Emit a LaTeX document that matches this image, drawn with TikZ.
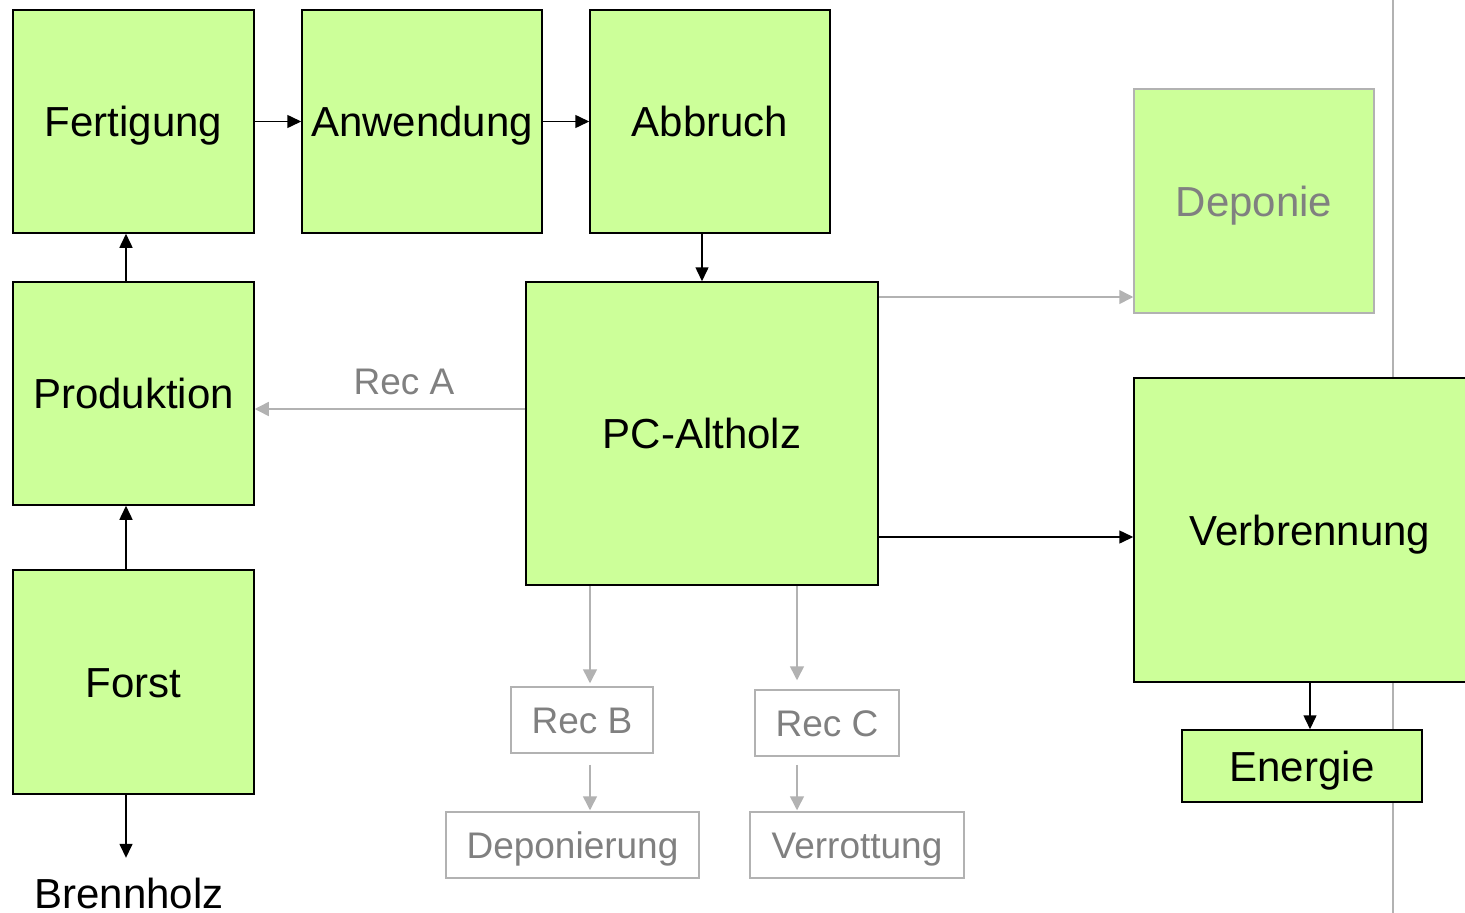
\documentclass[tikz,border=0pt]{standalone}
\usepackage{fontspec}
\setmainfont{Liberation Sans}
\usetikzlibrary{arrows.meta,calc}
\definecolor{boxgreen}{RGB}{204,255,153}
\definecolor{lgray}{RGB}{178,178,178}
\definecolor{tgray}{RGB}{128,128,128}
\begin{document}
\begin{tikzpicture}[x=1pt,y=-1pt,
  big/.style={font=\fontsize{42}{50}\selectfont, text height=30pt, text depth=0pt, inner sep=0pt},
  small/.style={font=\fontsize{37}{44}\selectfont, text height=26.5pt, text depth=0pt, inner sep=0pt},
  gbox/.style={big, draw=black, line width=1.5pt, fill=boxgreen},
  dbox/.style={big, draw=lgray, line width=1.5pt, fill=boxgreen, text=tgray},
  rbox/.style={small, draw=lgray, line width=1.5pt, fill=white, text=tgray},
  barr/.style={draw=black, line width=1.5pt, -{Triangle[length=14pt,width=13pt]}},
  garr/.style={draw=lgray, line width=1.5pt, -{Triangle[length=14pt,width=14pt]}}]
\fill[white] (0,0) rectangle (1465,913);
\useasboundingbox (0,0) rectangle (1465,913);
\clip (0,0) rectangle (1465,913);
\draw[lgray, line width=1.5pt] (1393,0) -- (1393,913);
% main boxes
\node[gbox, minimum width=241pt, minimum height=223pt] (fert) at (133.5,121.5) {Fertigung};
\node[gbox, minimum width=240pt, minimum height=223pt] (anw) at (422,121.5) {Anwendung};
\node[gbox, minimum width=240pt, minimum height=223pt] (abb) at (710,121.5) {Abbruch};
\node[gbox, minimum width=241pt, minimum height=223pt] (prod) at (133.5,393.5) {Produktion};
\node[gbox, minimum width=241pt, minimum height=224pt] (forst) at (133.5,682) {Forst};
\node[gbox, minimum width=352pt, minimum height=303pt] (pc) at (702,433.5) {PC-Altholz};
\node[dbox, minimum width=240pt, minimum height=224pt] (dep) at (1254,201) {Deponie};
\node[gbox, minimum width=352pt, minimum height=304pt] (verb) at (1310,530) {Verbrennung};
\node[gbox, minimum width=240pt, minimum height=72pt] (energie) at (1302,766) {Energie};
\node[rbox, minimum width=142pt, minimum height=66pt] (recb) at (582,720) {Rec B};
\node[rbox, minimum width=144pt, minimum height=66pt] (recc) at (827,723) {Rec C};
\node[rbox, minimum width=253pt, minimum height=66pt] (deponierung) at (572.5,845) {Deponierung};
\node[rbox, minimum width=214pt, minimum height=66pt] (verrottung) at (857,845) {Verrottung};
\node[big] (brenn) at (129,893) {Brennholz};
\node[small, text=tgray] (reca) at (404,381) {Rec A};
% black arrows
\draw[barr] (fert.east) -- (anw.west);
\draw[barr] (anw.east) -- (abb.west);
\draw[barr] ([xshift=-8pt]abb.south) -- (pc.north);
\draw[barr] ([xshift=-7.5pt]prod.north) -- ([xshift=-7.5pt]fert.south);
\draw[barr] ([xshift=-7.5pt]forst.north) -- ([xshift=-7.5pt]prod.south);
\draw[barr, shorten >=20pt] ([xshift=-7.5pt]forst.south) -- ([xshift=-3pt]brenn.north);
\draw[barr] ([yshift=-103.5pt]pc.east) -- ([yshift=-7pt]verb.west);
\draw[barr] (verb.south) -- ([xshift=8pt]energie.north);
% gray arrows
\draw[garr] ([yshift=24.5pt]pc.west) -- ([yshift=-15.5pt]prod.east);
\draw[garr] ([yshift=136.5pt]pc.east) -- ([yshift=-96pt]dep.west);
\draw[garr] ([xshift=-112pt]pc.south) -- ([xshift=8pt,yshift=3pt]recb.north);
\draw[garr] ([xshift=95pt]pc.south) -- ([xshift=-30pt,yshift=9pt]recc.north);
\draw[garr] ([xshift=8pt,yshift=-11pt]recb.south) -- ([xshift=17.5pt,yshift=1pt]deponierung.north);
\draw[garr] ([xshift=-30pt,yshift=-8pt]recc.south) -- ([xshift=-60pt,yshift=1pt]verrottung.north);
\end{tikzpicture}
\end{document}
